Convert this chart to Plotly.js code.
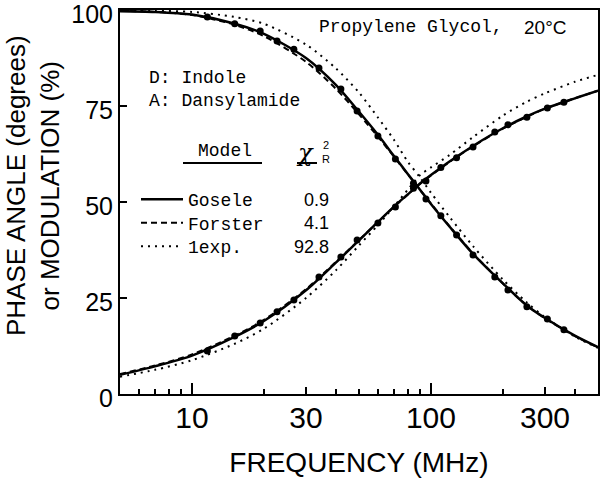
<!DOCTYPE html>
<html>
<head>
<meta charset="utf-8">
<script src="https://cdn.plot.ly/plotly-3.0.1.min.js"></script>
<style>body{margin:0;background:#fff}#chart{width:600px;height:478px}</style>
</head>
<body>
<div id="chart"></div>
<script>
// Measured data (MHz)
const freqData = [11.6, 15.1, 19.3, 22.7, 26.7, 34.0, 42.0, 49.1, 60.0, 71.0, 84.5, 95.3, 110, 128, 150, 185, 210, 252, 307, 360];
const phaseData = [11.2, 15.1, 18.5, 21.4, 24.5, 30.5, 35.7, 40.1, 44.5, 48.7, 53.6, 55.5, 59.0, 61.5, 64.3, 68.2, 70.1, 72.1, 74.5, 76.0];
const modData = [98.2, 96.4, 94.5, 91.9, 89.8, 84.9, 79.4, 73.7, 67.2, 61.2, 54.9, 50.8, 46.4, 41.4, 36.2, 30.5, 27.1, 22.7, 19.5, 16.7];

// Model curves
const freqModel = [5, 7, 10, 15, 20, 30, 40, 50, 60, 70, 80, 90, 100, 120, 150, 200, 250, 300, 400, 500];
const goselePhase = [5.0, 7.2, 10.0, 14.8, 19.0, 27.0, 34.2, 40.0, 44.8, 48.8, 52.0, 54.8, 57.0, 60.6, 64.6, 69.2, 72.2, 74.3, 77.0, 79.0];
const goseleMod = [99.7, 99.5, 98.8, 96.5, 93.8, 87.5, 80.5, 73.5, 67.5, 62.0, 57.3, 53.2, 49.5, 43.5, 36.5, 28.8, 23.2, 19.8, 15.2, 12.2];
const forsterPhase = [5.2, 7.4, 10.3, 15.1, 19.3, 27.3, 34.4, 40.1, 44.8, 48.7, 51.9, 54.7, 56.9, 60.5, 64.5, 69.1, 72.1, 74.3, 77.0, 79.0];
const forsterMod = [99.8, 99.5, 98.7, 96.2, 93.2, 86.5, 79.5, 72.8, 67.0, 61.8, 57.2, 53.2, 49.6, 43.6, 36.6, 28.8, 23.2, 19.7, 15.1, 12.1];
const oneExpPhase = [4.5, 6.3, 8.8, 13.0, 17.0, 25.0, 32.2, 38.7, 44.0, 48.8, 53.2, 57.0, 59.0, 62.3, 66.9, 72.5, 76.0, 78.3, 81.3, 83.1];
const oneExpMod = [99.9, 99.8, 99.5, 98.2, 96.4, 91.0, 84.8, 78.5, 72.0, 66.2, 60.5, 56.4, 52.4, 46.0, 38.5, 29.8, 24.0, 20.0, 15.0, 12.0];

const modelNames = ['Gosele', 'Forster', '1exp.'];
const chiSq = ['0.9', '4.1', '92.8'];

const xTickVals = [10, 30, 100, 300];
const xTickText = ['10', '30', '100', '300'];
const xMajorVals = [10, 100];
const xMinorVals = [6, 7, 8, 9, 20, 40, 50, 60, 70, 80, 90, 200, 400];
const yTickVals = [0, 25, 50, 75, 100];

const mono = 'Liberation Mono, DejaVu Sans Mono, monospace';
const sans = 'Liberation Sans, Arial, sans-serif';

const styles = [
  {dash: 'solid', width: 2.5},
  {dash: '6px,4px', width: 2},
  {dash: '2px,5px', width: 2}
];
const legendIds = ['legend', 'legend2', 'legend3'];
const models = [[goselePhase, goseleMod], [forsterPhase, forsterMod], [oneExpPhase, oneExpMod]];

const traces = [];
models.forEach((m, i) => {
  m.forEach((ys, j) => {
    traces.push({
      x: freqModel, y: ys, type: 'scatter', mode: 'lines',
      line: {color: '#000', width: styles[i].width, dash: styles[i].dash, shape: 'spline', smoothing: 0.8},
      name: modelNames[i], legendgroup: modelNames[i], legend: legendIds[i], showlegend: j === 0,
      hoverinfo: 'skip'
    });
  });
});
traces.push({x: freqData, y: phaseData, type: 'scatter', mode: 'markers',
  marker: {color: '#000', size: 7}, showlegend: false});
traces.push({x: freqData, y: modData, type: 'scatter', mode: 'markers',
  marker: {color: '#000', size: 7}, showlegend: false});
// carrier trace for the long major ticks
traces.push({x: [10], y: [null], xaxis: 'x2', yaxis: 'y', type: 'scatter', mode: 'markers', showlegend: false, hoverinfo: 'skip'});

const L = 120, R = 598, T = 10, B = 394;
const px = v => (v - L) / (R - L);
const py = v => (B - v) / (B - T);

const annotations = [
  {x: px(317), y: py(27), text: 'Propylene Glycol,', xanchor: 'left', yanchor: 'middle', font: {family: mono, size: 18}},
  {x: px(522), y: py(27), text: '20°C', xanchor: 'left', yanchor: 'middle', font: {family: sans, size: 19}},
  {x: px(147), y: py(78), text: 'D: Indole', xanchor: 'left', yanchor: 'middle', font: {family: mono, size: 18}},
  {x: px(147), y: py(101), text: 'A: Dansylamide', xanchor: 'left', yanchor: 'middle', font: {family: mono, size: 18}},
  {x: px(225), y: py(151), text: 'Model', xanchor: 'center', yanchor: 'middle', font: {family: mono, size: 18}},
  {x: px(305), y: py(153), text: '<i>χ</i>', xanchor: 'center', yanchor: 'middle', font: {family: 'DejaVu Serif, serif', size: 24}},
  {x: px(326), y: py(152), text: '2<br>R', xanchor: 'center', yanchor: 'middle', font: {family: sans, size: 11}},
  {x: px(33), y: py(186), text: 'PHASE ANGLE (degrees)<br>or MODULATION (%)', textangle: -90,
   xanchor: 'center', yanchor: 'middle', font: {family: sans, size: 26}}
];
chiSq.forEach((t, i) => {
  annotations.push({x: px(331), y: py(200 + i * 23.5), text: t, xanchor: 'right', yanchor: 'middle', font: {family: sans, size: 18}});
});
annotations.forEach(a => { a.xref = 'paper'; a.yref = 'paper'; a.showarrow = false; a.font.color = '#000'; });

const shapes = [
  {type: 'line', xref: 'paper', yref: 'paper', x0: px(183), x1: px(262), y0: py(163), y1: py(163), line: {color: '#000', width: 2}},
  {type: 'line', xref: 'paper', yref: 'paper', x0: px(297), x1: px(317), y0: py(163), y1: py(163), line: {color: '#000', width: 2}}
];

const legendBase = {xanchor: 'left', yanchor: 'top', bgcolor: 'rgba(0,0,0,0)',
  font: {family: mono, size: 18, color: '#000'}, itemwidth: 42};
const legendTops = [181, 204.5, 228];

const layout = {
  width: 600, height: 478,
  margin: {l: L, r: 600 - R, t: T, b: 478 - B},
  paper_bgcolor: '#fff', plot_bgcolor: '#fff',
  showlegend: true,
  xaxis: {
    type: 'log', range: [Math.log10(5), Math.log10(500)],
    tickmode: 'array', tickvals: xTickVals, ticktext: xTickText,
    ticks: 'inside', ticklen: 7, tickwidth: 1.5, tickcolor: '#000',
    minor: {tickmode: 'array', tickvals: xMinorVals, ticks: 'inside', ticklen: 5, tickwidth: 1.5, tickcolor: '#000'},
    showline: true, linecolor: '#000', linewidth: 2, mirror: true,
    showgrid: false, zeroline: false,
    tickfont: {family: sans, size: 30, color: '#000'}, ticklabelstandoff: -4,
    title: {text: 'FREQUENCY (MHz)', font: {family: sans, size: 28, color: '#000'}, standoff: 26}
  },
  xaxis2: {
    type: 'log', range: [Math.log10(5), Math.log10(500)], overlaying: 'x', anchor: 'y', side: 'bottom',
    tickmode: 'array', tickvals: xMajorVals, showticklabels: false,
    ticks: 'inside', ticklen: 11, tickwidth: 1.5, tickcolor: '#000',
    showline: false, showgrid: false, zeroline: false
  },
  yaxis: {
    range: [0, 100], tickmode: 'array', tickvals: yTickVals,
    ticks: 'inside', ticklen: 7, tickwidth: 1.5, tickcolor: '#000',
    showline: true, linecolor: '#000', linewidth: 2, mirror: true,
    showgrid: false, zeroline: false, ticklabeloverflow: 'allow', ticklabelshift: 4,
    tickfont: {family: sans, size: 25, color: '#000'}
  },
  annotations: annotations,
  shapes: shapes
};
legendIds.forEach((id, i) => {
  layout[id] = Object.assign({}, legendBase, {x: px(136), y: py(legendTops[i])});
});

Plotly.newPlot('chart', traces, layout, {displayModeBar: false, staticPlot: true});
</script>
</body>
</html>
